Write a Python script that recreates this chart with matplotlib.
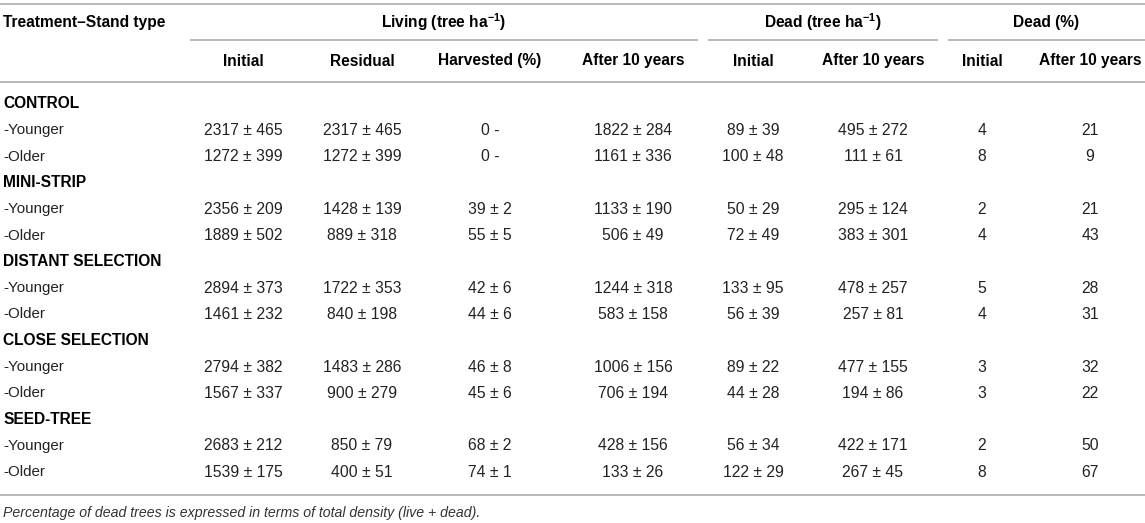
import matplotlib
matplotlib.use("Agg")
import matplotlib.pyplot as plt

plt.rcParams['font.family'] = ['Liberation Sans', 'DejaVu Sans']
plt.rcParams['mathtext.fontset'] = 'custom'
plt.rcParams['mathtext.rm'] = 'Liberation Sans'
plt.rcParams['mathtext.bf'] = 'Liberation Sans:bold'

# ---- data ----
treatments = ["CONTROL", "MINI-STRIP", "DISTANT SELECTION", "CLOSE SELECTION", "SEED-TREE"]
stand_types = ["-Younger", "-Older"]

living_initial_mean = [2317, 1272, 2356, 1889, 2894, 1461, 2794, 1567, 2683, 1539]
living_initial_sd = [465, 399, 209, 502, 373, 232, 382, 337, 212, 175]
living_residual_mean = [2317, 1272, 1428, 889, 1722, 840, 1483, 900, 850, 400]
living_residual_sd = [465, 399, 139, 318, 353, 198, 286, 279, 79, 51]
harvested_mean = [0, 0, 39, 55, 42, 44, 46, 45, 68, 74]
harvested_sd = [None, None, 2, 5, 6, 6, 8, 6, 2, 1]
living_after_mean = [1822, 1161, 1133, 506, 1244, 583, 1006, 706, 428, 133]
living_after_sd = [284, 336, 190, 49, 318, 158, 156, 194, 156, 26]
dead_initial_mean = [89, 100, 50, 72, 133, 56, 89, 44, 56, 122]
dead_initial_sd = [39, 48, 29, 49, 95, 39, 22, 28, 34, 29]
dead_after_mean = [495, 111, 295, 383, 478, 257, 477, 194, 422, 267]
dead_after_sd = [272, 61, 124, 301, 257, 81, 155, 86, 171, 45]
dead_pct_initial = [4, 8, 2, 4, 5, 4, 3, 3, 2, 8]
dead_pct_after = [21, 9, 21, 43, 28, 31, 32, 22, 50, 67]

group_headers = ["Living (tree ha$^{\\mathbf{-1}}$)", "Dead (tree ha$^{\\mathbf{-1}}$)", "Dead (%)"]
sub_headers = ["Initial", "Residual", "Harvested (%)", "After 10 years",
               "Initial", "After 10 years", "Initial", "After 10 years"]
first_header = "Treatment\u2013Stand type"
footnote = "Percentage of dead trees is expressed in terms of total density (live + dead)."

# ---- layout ----
W, H = 1145, 523
fig = plt.figure(figsize=(W / 100, H / 100), dpi=100)
ax = fig.add_axes([0, 0, 1, 1])
ax.set_xlim(0, W)
ax.set_ylim(H, 0)
ax.axis('off')

FS_HEAD = 11.2
FS_LABEL = 10.9
FS_DATA = 11.3
line_color = '#b8b8b8'
text_color = '#222222'
col_x = [243, 362, 490, 633, 753, 873, 982, 1090]
group_spans = [(190, 698), (708, 938), (948, 1145)]

def pm(m, s):
    return f"{m} \u00b1 {s}"

def hline(y, x0=0, x1=W, lw=1.4):
    ax.plot([x0, x1], [y, y], color=line_color, lw=lw, solid_capstyle='butt')

hline(4)
for x0, x1 in group_spans:
    hline(40, x0, x1)
hline(82)
hline(495)

# header
ax.text(3, 23, first_header, ha='left', va='center', fontsize=FS_HEAD, fontweight='bold', color='black')
for (x0, x1), g in zip(group_spans, group_headers):
    ax.text((x0 + x1) / 2, 22, g, ha='center', va='center', fontsize=FS_HEAD, fontweight='bold', color='black')
for x, s in zip(col_x, sub_headers):
    ax.text(x, 61, s, ha='center', va='center', fontsize=FS_HEAD, fontweight='bold', color='black')

# body
y0, pitch = 104, 26.3
row = 0
for gi, t in enumerate(treatments):
    y = y0 + pitch * row
    ax.text(3, y, t, ha='left', va='center', fontsize=FS_HEAD, fontweight='bold', color='black')
    row += 1
    for si, st in enumerate(stand_types):
        i = gi * 2 + si
        y = y0 + pitch * row
        ax.text(3, y, st, ha='left', va='center', fontsize=FS_LABEL, color=text_color)
        hv = f"{harvested_mean[i]} -" if harvested_sd[i] is None else pm(harvested_mean[i], harvested_sd[i])
        cells = [pm(living_initial_mean[i], living_initial_sd[i]),
                 pm(living_residual_mean[i], living_residual_sd[i]),
                 hv,
                 pm(living_after_mean[i], living_after_sd[i]),
                 pm(dead_initial_mean[i], dead_initial_sd[i]),
                 pm(dead_after_mean[i], dead_after_sd[i]),
                 str(dead_pct_initial[i]),
                 str(dead_pct_after[i])]
        for x, c in zip(col_x, cells):
            ax.text(x, y, c, ha='center', va='center', fontsize=FS_DATA, color=text_color)
        row += 1

ax.text(3, 513, footnote, ha='left', va='center', fontsize=10.2, style='italic', color='#333333')

fig.savefig('out.png', dpi=100)
